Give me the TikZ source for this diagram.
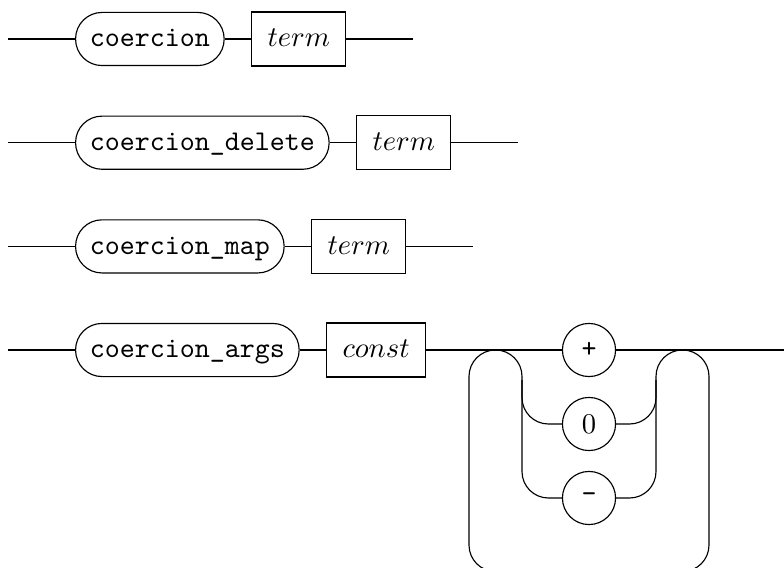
\documentclass[tikz,border=0pt]{standalone}
\usepackage{tikz}
\usetikzlibrary{positioning}

\begin{document}
\begin{tikzpicture}[
    x=0.35pt, y=-0.35pt,
    kw/.style={draw, rounded corners=9.25pt, minimum height=18.6pt, inner xsep=5pt,
               inner ysep=0pt, text height=1.5ex, text depth=.25ex, font=\ttfamily},
    nt/.style={draw, minimum height=18.9pt, inner xsep=5.5pt, inner ysep=0pt,
               text height=1.5ex, text depth=.25ex},
    sym/.style={draw, circle, minimum size=18.6pt, inner sep=0pt},
    rail/.style={rounded corners=9.25pt}
]
    \useasboundingbox (0,0) rectangle (784,568);

    \node[kw, anchor=west] (coercion) at (75,39) {coercion};
    \node[nt, right=9.3pt of coercion] (term1) {$term$};
    \coordinate (s1) at (8,39);
    \coordinate[right=23.5pt of term1] (e1);
    \draw (s1) -- (coercion) -- (term1) -- (e1);

    \node[kw, anchor=west] (delete) at (75,142.7) {coercion\_delete};
    \node[nt, right=9.3pt of delete] (term2) {$term$};
    \coordinate (s2) at (8,142.7);
    \coordinate[right=23.5pt of term2] (e2);
    \draw (s2) -- (delete) -- (term2) -- (e2);

    \node[kw, anchor=west] (map) at (75,246.4) {coercion\_map};
    \node[nt, right=9.3pt of map] (term3) {$term$};
    \coordinate (s3) at (8,246.4);
    \coordinate[right=23.5pt of term3] (e3);
    \draw (s3) -- (map) -- (term3) -- (e3);

    \node[kw, anchor=west] (args) at (75,350) {coercion\_args};
    \node[nt, right=9.3pt of args] (const) {$const$};
    \node[sym] (plus) at (589,350) {\texttt{+}};
    \node[sym] (zero) at (589,424) {0};
    \node[sym] (minus) at (589,498) {\texttt{-}};
    \coordinate (s4) at (8,350);
    \coordinate (e4) at (784,350);
    \draw (s4) -- (args) -- (const) -- (plus) -- (e4);

    \coordinate (lo) at (469,350);
    \coordinate (li) at (522,350);
    \coordinate (ri) at (656,350);
    \coordinate (ro) at (709,350);
    \coordinate (lj) at (522,380);
    \coordinate (rj) at (656,380);
    \coordinate (bot) at (589,571.5);
    \draw[rail] (minus.west) -| (li) -- (lo) |- (bot) -| (ro) -- (ri) |- (minus.east);
    \draw[rail] (zero.west) -| (lj);
    \draw[rail] (zero.east) -| (rj);
\end{tikzpicture}
\end{document}
